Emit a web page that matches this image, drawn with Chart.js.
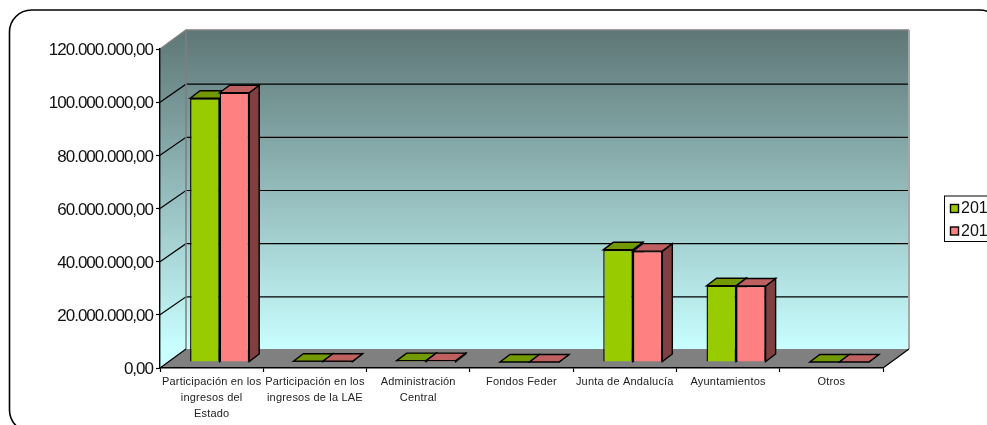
<!DOCTYPE html>
<html>
<head>
<meta charset="utf-8">
<script src="https://cdn.jsdelivr.net/npm/chart.js@4/dist/chart.umd.min.js"></script>
<style>
  html, body { margin: 0; background: #fff; overflow: hidden; }
  canvas { display: block; }
</style>
</head>
<body>
<canvas id="barChart" width="987" height="425"></canvas>
<script>
var categories = [
  ["Participación en los", "ingresos del", "Estado"],
  ["Participación en los", "ingresos de la LAE"],
  ["Administración", "Central"],
  "Fondos Feder",
  "Junta de Andalucía",
  "Ayuntamientos",
  "Otros"
];
var seriesNames = ["201", "201"];
var values1 = [99200000, 300000, 500000, 0, 42200000, 28700000, 0];
var values2 = [101300000, 300000, 500000, 0, 41700000, 28600000, 0];
var barColors = ["#99CC00", "#FF8080"];
var topColors = ["#739900", "#BF6060"];
var sideColors = ["#4D6600", "#804040"];

// back wall offset and bar offset / depth
var wallX = 26, wallY = 19, gridY = 18;
var barX = 8, barY = 6;
var depthX = 10, depthY = 7.5;

function poly(ctx, pts, fill, stroke, lw) {
  ctx.beginPath();
  pts.forEach(function (p, i) { i ? ctx.lineTo(p[0], p[1]) : ctx.moveTo(p[0], p[1]); });
  ctx.closePath();
  if (fill) { ctx.fillStyle = fill; ctx.fill(); }
  if (stroke) { ctx.strokeStyle = stroke; ctx.lineWidth = lw; ctx.stroke(); }
}

// the original's labels have odd tracking, chart.js has no option for it
function withSpacing(scale, spacing, dy) {
  if (scale._spaced) return;
  var orig = scale.drawLabels;
  scale.drawLabels = function (area) {
    scale.ctx.save();
    scale.ctx.letterSpacing = spacing;
    scale.ctx.translate(0, dy);
    orig.call(scale, area);
    scale.ctx.restore();
  };
  scale._spaced = true;
}

var walls3d = {
  id: "walls3d",
  beforeDraw: function (chart) {
    var ctx = chart.ctx, a = chart.chartArea;
    ctx.save();
    ctx.fillStyle = "#fff";
    ctx.fillRect(0, 0, chart.width, chart.height);

    // rounded frame, runs past the right and bottom of the picture
    ctx.beginPath();
    ctx.roundRect(9.5, 10, 992, 422, 22);
    ctx.strokeStyle = "#000";
    ctx.lineWidth = 1.6;
    ctx.stroke();

    var grad = ctx.createLinearGradient(0, a.top - wallY, 0, a.bottom - wallY);
    grad.addColorStop(0, "#5E7676");
    grad.addColorStop(1, "#C9FFFF");

    // left wall and back wall
    poly(ctx, [[a.left, a.top], [a.left + wallX, a.top - wallY], [a.left + wallX, a.bottom - wallY], [a.left, a.bottom]], grad);
    poly(ctx, [[a.left + wallX, a.top - wallY], [a.right + wallX, a.top - wallY], [a.right + wallX, a.bottom - wallY], [a.left + wallX, a.bottom - wallY]], grad);

    // grid lines over both walls
    var y = chart.scales.y;
    y.ticks.forEach(function (t) {
      if (t.value === 0 || t.value === y.max) return;
      var py = y.getPixelForValue(t.value);
      ctx.beginPath();
      ctx.moveTo(a.left, py);
      ctx.lineTo(a.left + wallX, py - gridY);
      ctx.lineTo(a.right + wallX, py - gridY);
      ctx.strokeStyle = "#000";
      ctx.lineWidth = 1.2;
      ctx.stroke();
    });

    // gray edges of the walls
    ctx.strokeStyle = "#7F7F7F";
    ctx.lineWidth = 1.5;
    ctx.beginPath();
    ctx.moveTo(a.left, a.top);
    ctx.lineTo(a.left + wallX, a.top - wallY);
    ctx.lineTo(a.right + wallX, a.top - wallY);
    ctx.moveTo(a.left + wallX, a.top - wallY);
    ctx.lineTo(a.left + wallX, a.bottom - wallY);
    ctx.stroke();
    ctx.strokeStyle = "#A6A6A6";
    ctx.lineWidth = 2;
    ctx.beginPath();
    ctx.moveTo(a.right + wallX, a.top - wallY);
    ctx.lineTo(a.right + wallX, a.bottom - wallY);
    ctx.stroke();

    // floor
    poly(ctx, [[a.left, a.bottom], [a.left + wallX, a.bottom - wallY], [a.right + wallX, a.bottom - wallY], [a.right, a.bottom]], "#808080");
    ctx.strokeStyle = "#000";
    ctx.lineWidth = 1.2;
    ctx.beginPath();
    ctx.moveTo(a.left + wallX, a.bottom - wallY);
    ctx.lineTo(a.left, a.bottom);
    ctx.moveTo(a.right, a.bottom);
    ctx.lineTo(a.right + wallX, a.bottom - wallY);
    ctx.stroke();
    ctx.restore();

    withSpacing(chart.scales.y, "-1px", 1.5);
    withSpacing(chart.scales.x, "0.2px", 1);
  },
  beforeDatasetsDraw: function (chart) {
    var ctx = chart.ctx;
    ctx.save();
    ctx.translate(barX, -barY);
    // side and top faces sit behind the bar fronts
    chart.data.datasets.forEach(function (ds, i) {
      chart.getDatasetMeta(i).data.forEach(function (bar) {
        var l = bar.x - bar.width / 2, r = bar.x + bar.width / 2;
        poly(ctx, [[r, bar.y], [r + depthX, bar.y - depthY], [r + depthX, bar.base - depthY], [r, bar.base]], sideColors[i], "#000", 1.4);
        poly(ctx, [[l, bar.y], [l + depthX, bar.y - depthY], [r + depthX, bar.y - depthY], [r, bar.y]], topColors[i], "#000", 1.4);
      });
    });
  },
  afterDatasetsDraw: function (chart) {
    chart.ctx.restore();
  },
  afterDraw: function (chart) {
    // legend, cut off by the right edge like the original
    var ctx = chart.ctx;
    ctx.save();
    ctx.fillStyle = "#fff";
    ctx.fillRect(944.5, 196, 60, 45.5);
    ctx.strokeStyle = "#000";
    ctx.lineWidth = 1;
    ctx.strokeRect(944.5, 196, 60, 45.5);
    chart.data.datasets.forEach(function (ds, i) {
      var ly = 204.5 + i * 22.5;
      ctx.fillStyle = ds.backgroundColor;
      ctx.fillRect(950.5, ly, 8, 8);
      ctx.strokeStyle = "#000";
      ctx.lineWidth = 1.4;
      ctx.strokeRect(950.5, ly, 8, 8);
      ctx.fillStyle = "#111";
      ctx.font = "16px 'Liberation Sans'";
      ctx.textBaseline = "middle";
      ctx.fillText(ds.label, 961, ly + 4.5);
    });
    ctx.restore();
  }
};

var ctx = document.getElementById("barChart").getContext("2d");
var barChart = new Chart(ctx, {
  type: "bar",
  data: {
    labels: categories,
    datasets: [
      { label: seriesNames[0], data: values1, backgroundColor: barColors[0] },
      { label: seriesNames[1], data: values2, backgroundColor: barColors[1] }
    ]
  },
  options: {
    responsive: false,
    animation: false,
    devicePixelRatio: 1,
    layout: { padding: { top: 49, right: 104, left: 0, bottom: 0 } },
    datasets: {
      bar: {
        categoryPercentage: 0.572,
        barPercentage: 1,
        borderColor: "#000",
        borderWidth: 1.4,
        clip: false
      }
    },
    plugins: { legend: { display: false }, tooltip: { enabled: false } },
    scales: {
      x: {
        afterFit: function (s) { s.height = 57; },
        grid: { drawOnChartArea: false, color: "#000", tickLength: 4, tickWidth: 1.2 },
        border: { color: "#000", width: 1.4 },
        ticks: {
          maxRotation: 0, minRotation: 0, autoSkip: false, padding: 1,
          color: "#222",
          font: { family: "'Liberation Sans'", size: 11, lineHeight: 1.45 }
        }
      },
      y: {
        min: 0,
        max: 120000000,
        afterFit: function (s) { s.width = 160; },
        grid: { drawOnChartArea: false, color: "#000", tickLength: 4, tickWidth: 1.2 },
        border: { color: "#000", width: 1.4 },
        ticks: {
          stepSize: 20000000,
          padding: 3,
          color: "#111",
          font: { family: "'Liberation Sans'", size: 17 },
          callback: function (v) {
            return v.toFixed(2).replace(".", ",").replace(/\B(?=(\d{3})+(?!\d))/g, ".");
          }
        }
      }
    }
  },
  plugins: [walls3d]
});
</script>
</body>
</html>
